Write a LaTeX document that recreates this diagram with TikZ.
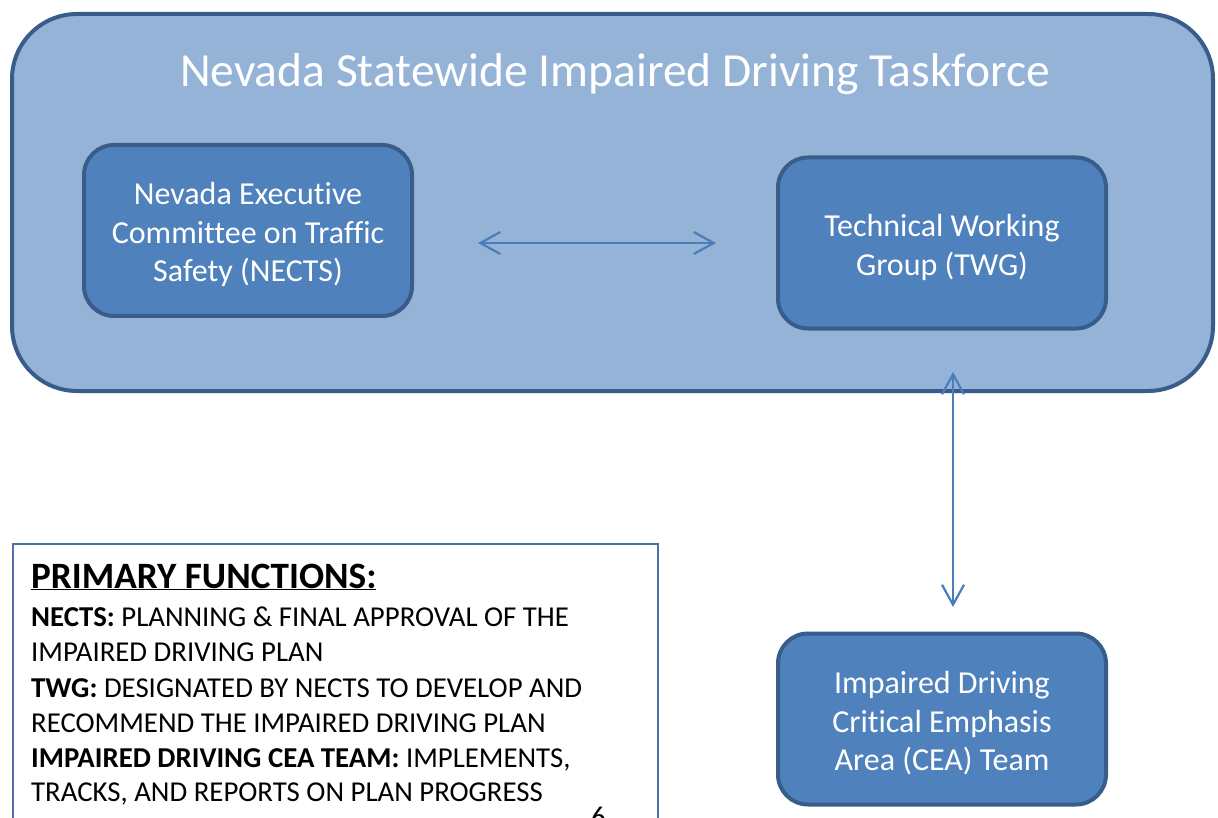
\documentclass[tikz,border=0pt]{standalone}
\usepackage{fontspec}
\setmainfont{Carlito}[Ligatures=NoCommon]
\usetikzlibrary{arrows.meta}
\definecolor{outerfill}{HTML}{95B3D7}
\definecolor{boxfill}{HTML}{4F81BD}
\definecolor{boxline}{HTML}{385D8A}
\definecolor{arrowcol}{HTML}{4A7EBB}
\definecolor{noteline}{RGB}{79,110,170}
\newcommand{\downstrut}{\rule{0pt}{31pt}}
\tikzset{
  outerbox/.style={draw=boxline, fill=outerfill, line width=4pt, rounded corners=65pt, minimum width=1201pt, minimum height=377pt, inner sep=0pt},
  unitbox/.style={draw=boxline, fill=boxfill, line width=4pt, rounded corners=30pt, minimum width=328pt, minimum height=171pt, inner sep=0pt, text=white, align=center, font=\fontsize{32}{38.5}\selectfont},
  biarrow/.style={draw=arrowcol, line width=2.2pt, {Straight Barb[length=20pt,width=22pt]}-{Straight Barb[length=20pt,width=22pt]}},
  notebox/.style={draw=noteline, fill=white, line width=1.5pt},
  noteline/.style={anchor=base west, inner sep=0pt, font=\fontsize{28.8}{34}\selectfont},
}
\begin{document}
\begin{tikzpicture}[x=1pt, y=-1pt]
\clip (0,0) rectangle (1218,818);
\fill[white] (0,0) rectangle (1218,818);
% outer taskforce box
\node[outerbox] (task) at (612.5,202.5) {};
\node[text=white, font=\fontsize{47.5}{52}\selectfont, inner sep=0pt] (title) at (615,74) {Nevada Statewide Impaired Driving Taskforce};
% inner boxes
\node[unitbox] (nects) at (248,230.5) {\downstrut Nevada Executive\\Committee on Traffic\\Safety (NECTS)};
\node[unitbox] (twg) at (942,243) {\downstrut Technical Working\\Group (TWG)};
\node[unitbox] (cea) at (942,719) {\downstrut Impaired Driving\\Critical Emphasis\\Area (CEA) Team};
% connectors
\coordinate (hl) at (478,243);
\coordinate (hr) at (716,243);
\coordinate (vt) at (953,372);
\coordinate (vb) at (953,607);
\draw[biarrow] (hl) -- (hr);
\draw[biarrow] (vt) -- (vb);
% note box
\node[notebox, minimum width=645pt, minimum height=300pt, anchor=north west, inner sep=0pt] (note) at (12,543) {};
\node[noteline, font=\fontsize{37.2}{40}\selectfont\bfseries] (head) at (31,588) {\underline{PRIMARY FUNCTIONS:}};
\node[noteline] (l1) at (31,626) {\textbf{NECTS:} PLANNING \& FINAL APPROVAL OF THE};
\node[noteline] (l2) at (31,661) {IMPAIRED DRIVING PLAN};
\node[noteline] (l3) at (31,697) {\textbf{TWG:} DESIGNATED BY NECTS TO DEVELOP AND};
\node[noteline] (l4) at (31,732) {RECOMMEND THE IMPAIRED DRIVING PLAN};
\node[noteline] (l5) at (31,767) {\textbf{IMPAIRED DRIVING CEA TEAM:} IMPLEMENTS,};
\node[noteline] (l6) at (31,801) {TRACKS, AND REPORTS ON PLAN PROGRESS};
\node[noteline] (page) at (591,826) {6};
\end{tikzpicture}
\end{document}
